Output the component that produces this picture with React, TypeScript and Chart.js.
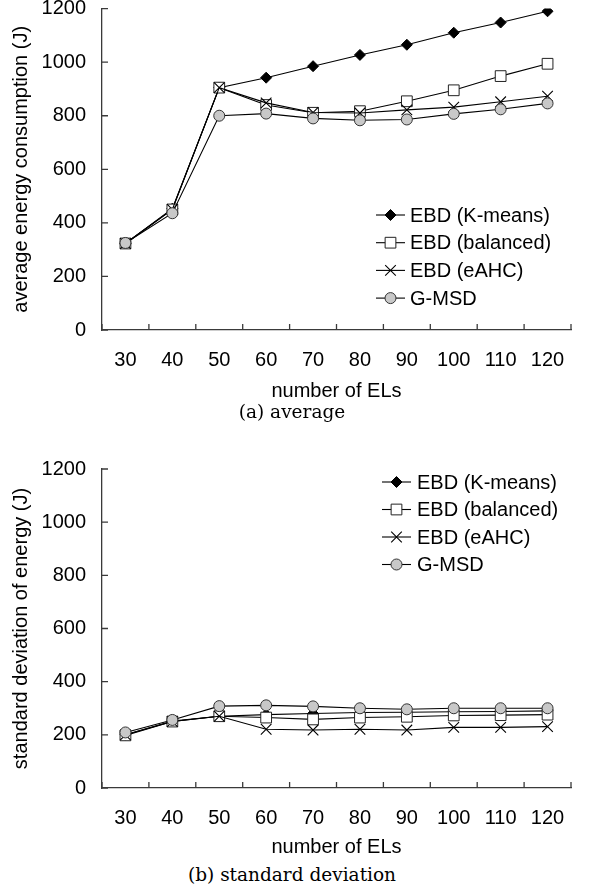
import React, { useEffect, useRef } from 'react';
import { Chart, registerables } from 'chart.js';
import { drawPoint } from 'chart.js/helpers';

Chart.register(...registerables);

// ---------- data ----------
const categories = ['30', '40', '50', '60', '70', '80', '90', '100', '110', '120'];
const seriesNames = ['EBD (K-means)', 'EBD (balanced)', 'EBD (eAHC)', 'G-MSD'];
const yTicks = [0, 200, 400, 600, 800, 1000, 1200];

// (a) average energy consumption (J)
const kmeansAvg = [323, 453, 905, 942, 985, 1027, 1065, 1110, 1148, 1190];
const balancedAvg = [323, 450, 905, 840, 811, 817, 854, 895, 948, 994];
const eahcAvg = [323, 450, 905, 848, 812, 810, 822, 832, 852, 873];
const gmsdAvg = [325, 436, 800, 808, 790, 783, 786, 807, 824, 846];

// (b) standard deviation of energy (J)
const kmeansStd = [200, 252, 270, 276, 280, 284, 285, 287, 288, 290];
const balancedStd = [198, 250, 270, 265, 258, 265, 268, 273, 274, 276];
const eahcStd = [200, 250, 270, 221, 218, 221, 218, 228, 228, 231];
const gmsdStd = [209, 256, 308, 311, 307, 300, 296, 300, 300, 300];

// ---------- styles ----------
const FONT = "'Liberation Sans', Arial, sans-serif";
const FS = 20;
const AXIS = '#3a3a3a';
const markerStyles = [
  { pointStyle: 'rectRot', radius: 5.5, bg: '#000000', border: '#000000', bw: 1, order: 3 },
  { pointStyle: 'rect', radius: 7.6, bg: '#ffffff', border: '#222222', bw: 1, order: 2 },
  { pointStyle: 'crossRot', radius: 7.5, bg: '#000000', border: '#000000', bw: 1.1, order: 1 },
  { pointStyle: 'circle', radius: 5.5, bg: '#c8c8c8', border: '#333333', bw: 1, order: 0 },
];

const innerTicks = {
  id: 'innerTicks',
  afterDraw(chart: any) {
    const { ctx, chartArea: a, scales } = chart;
    const x = scales.x;
    const y = scales.y;
    ctx.save();
    ctx.strokeStyle = AXIS;
    ctx.lineWidth = 1.3;
    ctx.beginPath();
    y.ticks.forEach((_t: any, i: number) => {
      const py = y.getPixelForTick(i);
      ctx.moveTo(a.left, py);
      ctx.lineTo(a.left + 6, py);
    });
    for (let i = 0; i <= categories.length; i++) {
      const px = x.getPixelForValue(i - 0.5);
      ctx.moveTo(px, a.bottom);
      ctx.lineTo(px, a.bottom - 6);
    }
    ctx.stroke();
    ctx.restore();
  },
};

const innerLegend = {
  id: 'innerLegend',
  afterDraw(chart: any, _args: any, opts: any) {
    const { ctx } = chart;
    ctx.save();
    chart.data.datasets.forEach((ds: any, i: number) => {
      const st = markerStyles[i];
      const yy = opts.y0 + opts.dy * i;
      ctx.strokeStyle = '#000';
      ctx.lineWidth = 1.1;
      ctx.beginPath();
      ctx.moveTo(opts.x0, yy);
      ctx.lineTo(opts.x1, yy);
      ctx.stroke();
      ctx.fillStyle = st.bg;
      ctx.strokeStyle = st.border;
      ctx.lineWidth = st.bw;
      drawPoint(ctx, { pointStyle: st.pointStyle, rotation: 0, radius: st.radius, borderWidth: st.bw } as any, (opts.x0 + opts.x1) / 2, yy);
      ctx.fillStyle = '#000';
      ctx.font = `${FS}px ${FONT}`;
      ctx.textAlign = 'left';
      ctx.textBaseline = 'middle';
      ctx.fillText(ds.label, opts.textX, yy + 1);
    });
    ctx.restore();
  },
};

type Props = {
  top: number;
  height: number;
  padTop: number;
  xAxisHeight: number;
  yTitle: string;
  series: number[][];
  legend: { x0: number; x1: number; textX: number; y0: number; dy: number };
};

function EnergyChart({ top, height, padTop, xAxisHeight, yTitle, series, legend }: Props) {
  const ref = useRef<HTMLCanvasElement>(null);
  useEffect(() => {
    if (!ref.current) return;
    const chart = new Chart(ref.current, {
      type: 'line',
      data: {
        labels: categories,
        datasets: series.map((vals, i) => ({
          label: seriesNames[i],
          data: vals,
          order: markerStyles[i].order,
          borderColor: '#000',
          borderWidth: 1.1,
          backgroundColor: markerStyles[i].bg,
          pointStyle: markerStyles[i].pointStyle as any,
          pointRadius: markerStyles[i].radius,
          pointBackgroundColor: markerStyles[i].bg,
          pointBorderColor: markerStyles[i].border,
          pointBorderWidth: markerStyles[i].bw,
          tension: 0,
          fill: false,
        })),
      },
      options: {
        animation: false,
        responsive: false,
        events: [],
        layout: { padding: { top: padTop, right: 24, left: 0, bottom: 0 } },
        plugins: {
          legend: { display: false },
          tooltip: { enabled: false },
          innerLegend: legend,
        } as any,
        scales: {
          x: {
            type: 'category',
            offset: true,
            ticks: { padding: 18, color: '#000', font: { family: FONT, size: FS }, maxRotation: 0, autoSkip: false },
            grid: { display: false, drawTicks: false, offset: true },
            border: { display: true, color: AXIS, width: 1.3 },
            title: { display: true, text: 'number of ELs', color: '#000', font: { family: FONT, size: FS }, padding: { top: 0, bottom: 0 } },
            afterFit(scale: any) {
              scale.height = xAxisHeight;
              scale.paddingLeft = 0;
              scale.paddingRight = 0;
            },
          },
          y: {
            min: yTicks[0],
            max: yTicks[yTicks.length - 1],
            afterBuildTicks(scale: any) {
              scale.ticks = yTicks.map((v) => ({ value: v }));
            },
            ticks: {
              padding: 16,
              color: '#000',
              font: { family: FONT, size: FS },
              callback: (v: any) => String(v),
            },
            grid: { display: false, drawTicks: false },
            border: { display: true, color: AXIS, width: 1.3 },
            title: { display: true, text: yTitle, color: '#000', font: { family: FONT, size: FS }, padding: { top: 9, bottom: 0 } },
            afterFit(scale: any) {
              scale.width = 102;
              scale.paddingTop = 0;
              scale.paddingBottom = 0;
            },
          },
        },
      },
      plugins: [innerTicks, innerLegend],
    });
    return () => chart.destroy();
  }, []);
  return (
    <canvas
      ref={ref}
      width={595}
      height={height}
      style={{ position: 'absolute', left: 0, top, width: 595, height }}
    />
  );
}

const captionStyle: React.CSSProperties = {
  position: 'absolute',
  left: 0,
  width: 584,
  textAlign: 'center',
  fontFamily: "'DejaVu Serif', serif",
  fontSize: 18.5,
  lineHeight: '22px',
  color: '#000',
};

export default function App() {
  return (
    <div style={{ position: 'absolute', left: 0, top: 0, width: 595, height: 890, background: '#fff', overflow: 'hidden' }}>
      <EnergyChart
        top={0}
        height={403}
        padTop={7}
        xAxisHeight={73}
        yTitle="average energy consumption (J)"
        series={[kmeansAvg, balancedAvg, eahcAvg, gmsdAvg]}
        legend={{ x0: 376, x1: 405, textX: 410, y0: 215, dy: 27.7 }}
      />
      <div style={{ ...captionStyle, top: 401 }}>(a) average</div>
      <EnergyChart
        top={440}
        height={419}
        padTop={29}
        xAxisHeight={71}
        yTitle="standard deviation of energy (J)"
        series={[kmeansStd, balancedStd, eahcStd, gmsdStd]}
        legend={{ x0: 382, x1: 411, textX: 417, y0: 42, dy: 27.5 }}
      />
      <div style={{ ...captionStyle, top: 864 }}>(b) standard deviation</div>
    </div>
  );
}
